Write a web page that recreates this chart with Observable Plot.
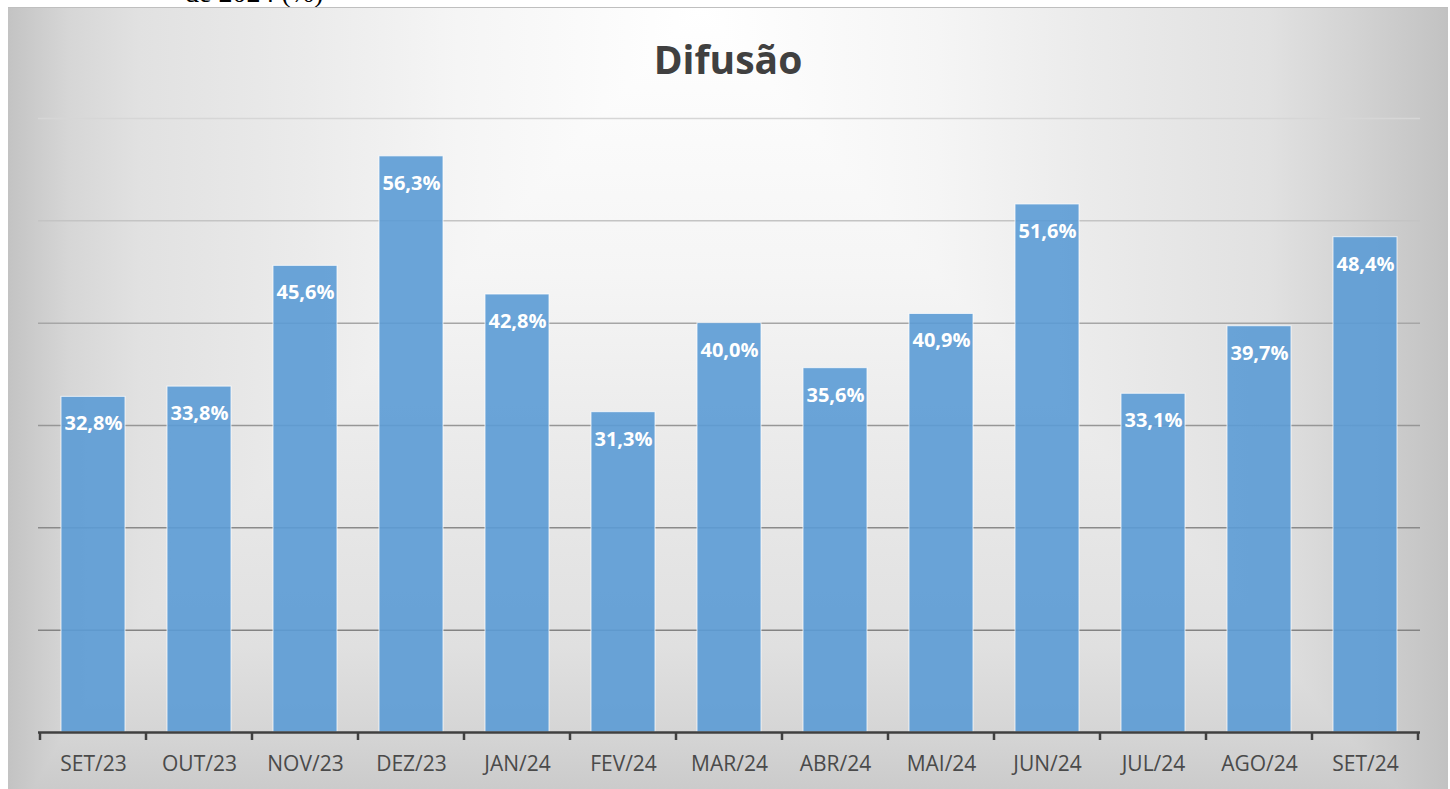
<!DOCTYPE html>
<html>
<head>
<meta charset="utf-8">
<script src="https://cdn.jsdelivr.net/npm/d3@7"></script>
<script src="https://cdn.jsdelivr.net/npm/@observablehq/plot@0.6"></script>
<style>
  html, body { margin: 0; padding: 0; background: #ffffff; width: 1450px; height: 789px; overflow: hidden; }
  #cut { position: absolute; left: 0; top: 0; width: 1450px; height: 7px; overflow: hidden; }
  #cut span { position: absolute; left: 185px; top: -21px; font-family: "Liberation Serif", "Times New Roman", serif; font-size: 28px; line-height: 28px; color: #000; white-space: nowrap; }
  #panel { position: absolute; left: 8px; top: 7px; width: 1440px; height: 782px;
    background:
      linear-gradient(to right, #c3c3c3 0px, #d6d6d6 60px, #e1e1e1 130px, #ebebeb 300px, #f5f5f5 450px, #ffffff 692px, #f5f5f5 930px, #ebebeb 1080px, #e1e1e1 1260px, #d4d4d4 1340px, #c2c2c2 1440px),
      linear-gradient(to bottom, #ffffff 0px, #f5f5f5 270px, #ebebeb 430px, #e0e0e0 640px, #d6d6d6 720px, #cbcbcb 782px);
    background-blend-mode: darken;
  }
  #panel::before { content: ""; position: absolute; left: 0; top: 0; width: 100%; height: 1px; background: #bfbfbf; }
  #title { position: absolute; left: 0; top: 32px; width: 1440px; text-align: center; font-family: "Open Sans", sans-serif; font-weight: 700; font-size: 39px; line-height: 39px; color: #404040; }
  #chart { position: absolute; left: 0; top: 0; }
</style>
</head>
<body>
<div id="cut"><span>de 2024 (%)</span></div>
<div id="panel">
  <div id="chart"></div>
  <div id="title">Difusão</div>
</div>
<script>
const months = ["SET/23", "OUT/23", "NOV/23", "DEZ/23", "JAN/24", "FEV/24", "MAR/24", "ABR/24", "MAI/24", "JUN/24", "JUL/24", "AGO/24", "SET/24"];
const values = [32.8, 33.8, 45.6, 56.3, 42.8, 31.3, 40.0, 35.6, 40.9, 51.6, 33.1, 39.7, 48.4];
const gridValues = [10, 20, 30, 40, 50, 60];

const data = months.map((m, i) => ({month: m, value: values[i]}));
const fmt = v => d3.format(".1f")(v).replace(".", ",") + "%";
const gridColor = d3.scaleLinear().domain([10, 20, 30, 40, 50, 60])
  .range(["#838383", "#8a8a8a", "#969696", "#a6a6a6", "#c4c4c4", "#d6d6d6"]);

const chart = Plot.plot({
  width: 1440,
  height: 780,
  marginLeft: 30,
  marginRight: 28,
  marginTop: 111,
  marginBottom: 55,
  style: {background: "transparent", overflow: "visible"},
  x: {type: "band", domain: months, paddingInner: 0.4, paddingOuter: 0.2, axis: null},
  y: {domain: [0, 60], axis: null},
  color: {type: "identity"},
  marks: [
    Plot.ruleY(gridValues, {y: d => d, stroke: d => gridColor(d), strokeWidth: 1.5}),
    Plot.barY(data, {x: "month", y: "value", fill: "#5b9bd5", fillOpacity: 0.9, stroke: "#ffffff", strokeOpacity: 0.75, strokeWidth: 1}),
    Plot.ruleY([0], {stroke: "#404040", strokeWidth: 2.5}),
    Plot.text(data, {x: "month", y: "value", text: d => fmt(d.value), dy: 27, fill: "#ffffff", fontWeight: "bold", fontSize: 20, fontFamily: "Open Sans"}),
    Plot.text(months, {x: d => d, y: 0, text: d => d, dy: 32, fill: "#4a4a4a", fontSize: 21, fontFamily: "Open Sans"})
  ]
});

// boundary tick marks on the category axis, placed with the plot's own scales
const sx = chart.scale("x");
const sy = chart.scale("y");
const gap = (sx.step - sx.bandwidth) / 2;
const bounds = months.map(m => sx.apply(m) - gap).concat([sx.apply(months[months.length - 1]) + sx.bandwidth + gap]);
const y0 = sy.apply(0);
d3.select(chart).append("g")
  .selectAll("line").data(bounds).join("line")
  .attr("x1", d => d).attr("x2", d => d)
  .attr("y1", y0).attr("y2", y0 + 8)
  .attr("stroke", "#404040").attr("stroke-width", 2.5);

document.getElementById("chart").appendChild(chart);
</script>
</body>
</html>
